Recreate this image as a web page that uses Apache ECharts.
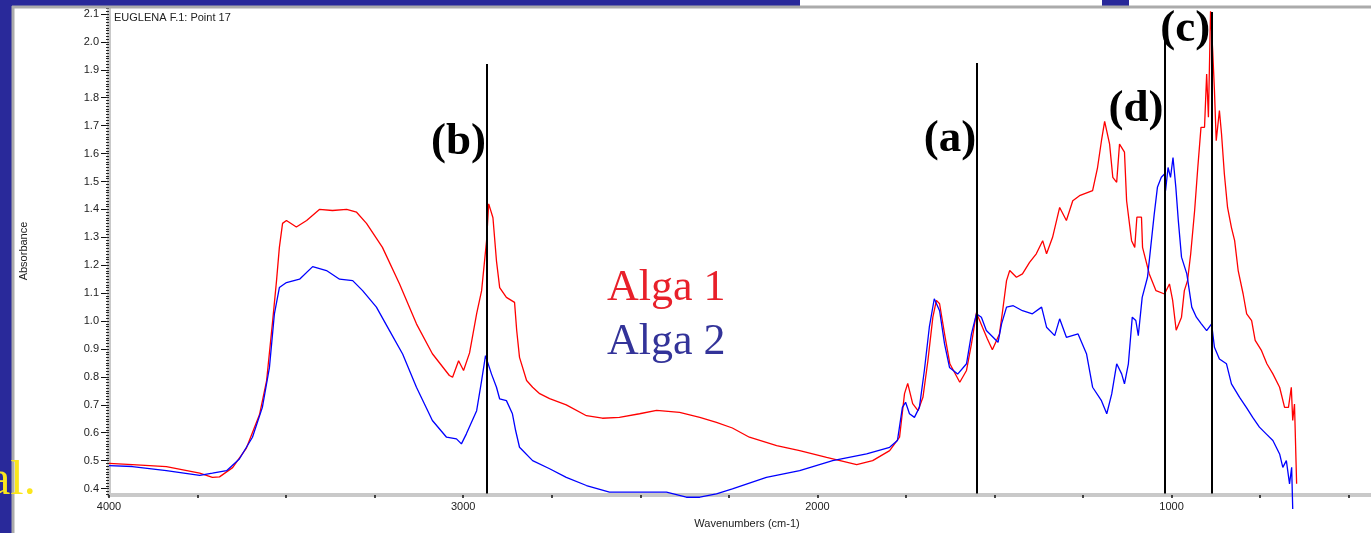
<!DOCTYPE html>
<html>
<head>
<meta charset="utf-8">
<script src="https://cdn.jsdelivr.net/npm/echarts@6/dist/echarts.min.js"></script>
<style>
  html, body { margin: 0; padding: 0; background: #ffffff; }
  #chart { width: 1371px; height: 533px; }
</style>
</head>
<body>
<div id="chart"></div>
<script>
// FTIR absorbance spectra of two algae (wavenumbers in cm-1)
const alga1Wn = [4000,3934,3838,3744,3708,3688,3651,3612,3575,3555,
  3538,3527,3519,3510,3499,3471,3442,3406,3369,3329,
  3301,3273,3228,3180,3132,3087,3039,3030,3013,2999,
  2982,2962,2948,2934,2928,2916,2906,2897,2878,2855,
  2849,2841,2821,2804,2784,2756,2709,2652,2607,2559,
  2502,2454,2389,2332,2285,2240,2192,2115,2050,1974,
  1889,1844,1796,1768,1754,1745,1731,1716,1702,1688,
  1674,1664,1655,1641,1626,1598,1579,1565,1551,1534,
  1520,1506,1486,1477,1466,1457,1438,1421,1401,1382,
  1364,1353,1336,1316,1297,1279,1260,1223,1209,1198,
  1189,1175,1166,1155,1147,1133,1127,1113,1104,1098,
  1085,1082,1063,1044,1020,1006,997,987,972,964,
  955,946,935,926,917,907,901,896,890,884,
  879,874,865,859,851,842,831,822,812,798,
  788,774,764,746,731,714,695,681,670,662,
  658,653,647];
const alga1Abs = [0.49,0.486,0.479,0.455,0.44,0.442,0.475,0.545,0.665,0.787,
  1.0,1.145,1.264,1.35,1.36,1.337,1.36,1.40,1.396,1.40,
  1.39,1.35,1.264,1.134,0.99,0.883,0.805,0.799,0.858,0.823,
  0.886,1.027,1.109,1.288,1.42,1.37,1.215,1.12,1.085,1.067,
  0.967,0.87,0.787,0.763,0.74,0.722,0.70,0.661,0.652,0.655,
  0.668,0.68,0.673,0.655,0.637,0.617,0.584,0.554,0.536,0.512,
  0.486,0.50,0.536,0.584,0.74,0.777,0.704,0.679,0.727,0.858,
  1.014,1.074,1.062,0.954,0.847,0.781,0.823,0.918,1.03,0.978,
  0.936,0.897,0.954,1.037,1.145,1.181,1.157,1.169,1.21,1.241,
  1.288,1.241,1.30,1.407,1.36,1.431,1.449,1.467,1.55,1.646,
  1.715,1.634,1.515,1.497,1.634,1.605,1.431,1.288,1.264,1.372,
  1.372,1.264,1.169,1.109,1.097,1.133,1.074,0.967,1.014,1.109,
  1.145,1.241,1.395,1.55,1.694,1.694,1.885,1.73,2.11,1.97,
  1.826,1.646,1.754,1.67,1.527,1.407,1.335,1.288,1.181,1.097,
  1.026,1.002,0.931,0.894,0.847,0.811,0.763,0.691,0.691,0.763,
  0.644,0.703,0.417];

const alga2Wn = [4000,3934,3838,3744,3708,3668,3632,3595,3567,3547,
  3533,3519,3499,3462,3425,3386,3349,3312,3284,3245,
  3208,3171,3132,3087,3047,3019,3005,2991,2962,2948,
  2937,2920,2906,2897,2878,2861,2852,2841,2804,2756,
  2709,2652,2587,2522,2426,2370,2332,2285,2240,2144,
  2050,1957,1861,1796,1774,1760,1751,1740,1726,1712,
  1698,1684,1670,1655,1641,1627,1604,1579,1565,1551,
  1537,1523,1504,1490,1480,1466,1447,1421,1393,1367,
  1353,1330,1316,1297,1264,1240,1223,1198,1183,1169,
  1155,1141,1133,1122,1111,1101,1094,1083,1068,1059,
  1049,1040,1029,1020,1017,1010,1003,996,988,981,
  972,957,943,930,916,901,887,879,865,845,
  831,808,789,771,752,733,714,695,686,676,
  667,661,658];
const alga2Abs = [0.482,0.479,0.464,0.447,0.455,0.464,0.506,0.584,0.691,0.834,
  1.026,1.12,1.138,1.15,1.195,1.181,1.15,1.145,1.109,1.05,
  0.966,0.882,0.763,0.644,0.584,0.578,0.56,0.596,0.679,0.787,
  0.876,0.81,0.763,0.721,0.715,0.668,0.608,0.548,0.50,0.471,
  0.44,0.411,0.387,0.387,0.387,0.369,0.369,0.381,0.399,0.44,
  0.464,0.50,0.524,0.548,0.572,0.691,0.709,0.668,0.655,0.691,
  0.823,0.978,1.08,1.037,0.918,0.834,0.81,0.847,0.954,1.026,
  1.014,0.966,0.942,0.924,0.99,1.05,1.055,1.037,1.026,1.05,
  0.978,0.948,1.008,0.942,0.954,0.882,0.763,0.715,0.668,0.739,
  0.847,0.811,0.775,0.847,1.014,1.002,0.948,1.085,1.157,1.264,
  1.383,1.479,1.515,1.527,1.467,1.55,1.515,1.586,1.479,1.36,
  1.229,1.169,1.05,1.014,0.99,0.966,0.99,0.906,0.864,0.847,
  0.775,0.727,0.691,0.655,0.62,0.596,0.572,0.524,0.476,0.50,
  0.417,0.476,0.327];

// Marked absorption bands: position, top of the marker line, tag, tag height
const bandWn    = [2933, 1549, 1020, 888];
const bandTop   = [1.921, 1.924, 2.065, 2.107];
const bandTag   = ['(b)', '(a)', '(d)', '(c)'];
const bandTagY  = [1.640, 1.651, 1.758, 2.044];
const bandBase  = 0.382;

// Axis ticks and labels
const xLabelValues = [4000, 3000, 2000, 1000];
const xTickValues  = [4000,3750,3500,3250,3000,2750,2500,2250,2000,1750,1500,1250,1000,750,500];
const yLabelValues = [0.4,0.5,0.6,0.7,0.8,0.9,1.0,1.1,1.2,1.3,1.4,1.5,1.6,1.7,1.8,1.9,2.0,2.1];

// the page cuts the wavenumber axis a little before its 400 cm-1 end
const X_MIN = 437, X_MAX = 4000, Y_MIN = 0.377, Y_MAX = 2.125;

const SANS  = '"Liberation Sans", Arial, Helvetica, sans-serif';
const SERIF = '"Liberation Serif", "Times New Roman", serif';
const NAVY  = '#29299a';

// fine tick marks every 0.01 along the absorbance axis
const yMinorTicks = [];
for (let k = 38; k <= 212; k++) yMinorTicks.push(+(k / 100).toFixed(2));

const zip = (xs, ys) => xs.map((x, i) => [x, ys[i]]);

const chart = echarts.init(document.getElementById('chart'), null, { renderer: 'canvas' });

chart.setOption({
  animation: false,
  backgroundColor: '#ffffff',
  title: {
    text: 'EUGLENA F.1: Point 17',
    left: 114, top: 12, padding: 0,
    textStyle: { fontFamily: SANS, fontSize: 11, fontWeight: 'normal', color: '#222' }
  },
  legend: {
    orient: 'vertical',
    left: 602, top: 266, padding: 0,
    itemGap: 10, itemWidth: 0, itemHeight: 0,
    selectedMode: false,
    textStyle: { fontFamily: SERIF, fontSize: 44 },
    data: [
      { name: 'Alga 1', icon: 'none', textStyle: { color: '#e8202a' } },
      { name: 'Alga 2', icon: 'none', textStyle: { color: '#333399' } }
    ]
  },
  grid: { left: 109, top: 7, right: 0, bottom: 38, outerBoundsMode: 'none' },
  xAxis: {
    type: 'value', min: X_MIN, max: X_MAX, inverse: true,
    name: 'Wavenumbers (cm-1)', nameLocation: 'middle', nameGap: 23,
    nameTextStyle: { fontFamily: SANS, fontSize: 11, color: '#222', padding: [0, 0, 0, 14] },
    axisLine: { onZero: false, lineStyle: { color: '#c9c9c9', width: 4 } },
    axisTick: { customValues: xTickValues, length: 3, lineStyle: { color: '#111', width: 1.5 } },
    axisLabel: { customValues: xLabelValues, margin: 6, fontFamily: SANS, fontSize: 11, color: '#222',
                 formatter: v => String(v) },
    splitLine: { show: false }
  },
  yAxis: [
    {
      type: 'value', min: Y_MIN, max: Y_MAX,
      name: 'Absorbance', nameLocation: 'middle', nameGap: 80,
      nameTextStyle: { fontFamily: SANS, fontSize: 11, color: '#222' },
      axisLine: { onZero: false, lineStyle: { color: '#c9c9c9', width: 4 } },
      axisTick: { customValues: yLabelValues, length: 8, lineStyle: { color: '#111', width: 1 } },
      axisLabel: { customValues: yLabelValues, margin: 10, fontFamily: SANS, fontSize: 11, color: '#222',
                   formatter: v => v.toFixed(1) },
      splitLine: { show: false }
    },
    {
      type: 'value', min: Y_MIN, max: Y_MAX, position: 'left',
      axisLine: { show: false },
      axisTick: { customValues: yMinorTicks, length: 3, lineStyle: { color: '#222', width: 1 } },
      axisLabel: { show: false },
      splitLine: { show: false }
    }
  ],
  series: [
    {
      name: 'Alga 1', type: 'line', data: zip(alga1Wn, alga1Abs),
      symbol: 'none', clip: false, z: 3,
      lineStyle: { color: '#ff0000', width: 1.3 }, itemStyle: { color: '#ff0000' }
    },
    {
      name: 'Alga 2', type: 'line', data: zip(alga2Wn, alga2Abs),
      symbol: 'none', clip: false, z: 4,
      lineStyle: { color: '#0000ff', width: 1.3 }, itemStyle: { color: '#0000ff' }
    },
    {
      name: 'bands', type: 'scatter', z: 5, silent: true,
      data: bandWn.map((w, i) => [w, bandTagY[i], bandTag[i]]),
      symbolSize: 0,
      itemStyle: { opacity: 1, color: '#000' },
      label: {
        show: true, position: 'left', distance: 1,
        formatter: p => p.value[2],
        fontFamily: SERIF, fontWeight: 'bold', fontSize: 45, color: '#000'
      },
      markLine: {
        silent: true, symbol: ['none', 'none'], animation: false,
        label: { show: false },
        lineStyle: { color: '#000', width: 2, type: 'solid', opacity: 1 },
        data: bandWn.map((w, i) => [{ coord: [w, bandBase] }, { coord: [w, bandTop[i]] }])
      }
    }
  ],
  graphic: [
    { type: 'rect', silent: true, z: 10, shape: { x: 0, y: 0, width: 12, height: 533 }, style: { fill: NAVY } },
    { type: 'rect', silent: true, z: 10, shape: { x: 0, y: 0, width: 800, height: 6 }, style: { fill: NAVY } },
    { type: 'rect', silent: true, z: 10, shape: { x: 1102, y: 0, width: 27, height: 6 }, style: { fill: NAVY } },
    { type: 'line', silent: true, z: 10, shape: { x1: 12, y1: 7, x2: 1371, y2: 7 },
      style: { stroke: '#ababab', lineWidth: 3 } },
    { type: 'line', silent: true, z: 10, shape: { x1: 13, y1: 6, x2: 13, y2: 533 },
      style: { stroke: '#ababab', lineWidth: 3 } },
    { type: 'text', silent: true, z: 11, x: -11, y: 481,
      style: { text: 'al.', font: '48px ' + SERIF, fill: '#fbe61c', verticalAlign: 'middle' } }
  ]
});
</script>
</body>
</html>
